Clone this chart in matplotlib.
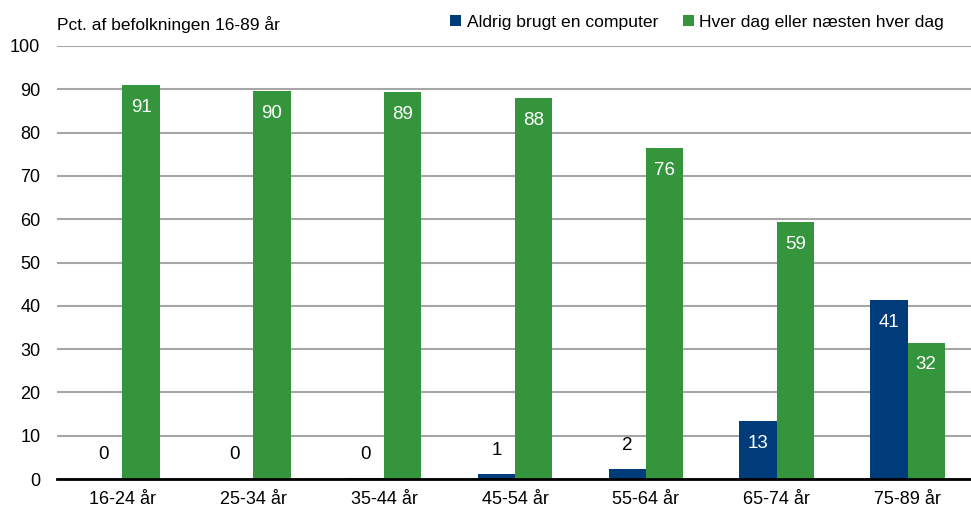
import matplotlib.pyplot as plt
import numpy as np

plt.rcParams['font.family'] = ['Liberation Sans', 'DejaVu Sans']

# Data
categories = ['16-24 år', '25-34 år', '35-44 år', '45-54 år', '55-64 år', '65-74 år', '75-89 år']
aldrig = [0.1, 0.1, 0.3, 1.2, 2.3, 13.3, 41.3]
aldrig_labels = ['0', '0', '0', '1', '2', '13', '41']
hver_dag = [91.0, 89.6, 89.3, 88.0, 76.4, 59.4, 31.5]
hver_dag_labels = ['91', '90', '89', '88', '76', '59', '32']

navy = '#003b7a'
green = '#35953c'

fig = plt.figure(figsize=(9.71, 5.18), dpi=100)
ax = fig.add_axes([57 / 971, 1 - 479 / 518, 916 / 971, 433 / 518])

x = np.arange(len(categories))
w = 0.285
b1 = ax.bar(x - w / 2, aldrig, w, color=navy, label='Aldrig brugt en computer', zorder=3)
b2 = ax.bar(x + w / 2, hver_dag, w, color=green, label='Hver dag eller næsten hver dag', zorder=3)

# value labels: white inside tall bars, black above small ones
for bars, labels in ((b1, aldrig_labels), (b2, hver_dag_labels)):
    for bar, lab in zip(bars, labels):
        h = bar.get_height()
        cx = bar.get_x() + bar.get_width() / 2
        if h > 8:
            ax.annotate(lab, (cx, h), xytext=(0, -16), textcoords='offset points',
                        ha='center', va='center', color='white', fontsize=13.5, zorder=4)
        else:
            ax.annotate(lab, (cx, h), xytext=(0, 17), textcoords='offset points',
                        ha='center', va='center', color='black', fontsize=13.5, zorder=4)

ax.set_xlim(-0.5, len(categories) - 0.5)
ax.set_ylim(0, 100)
ax.set_yticks(range(0, 101, 10))
ax.set_xticks(x)
ax.set_xticklabels(categories)
ax.yaxis.grid(True, color='#a6a6a6', linewidth=1.5, zorder=0)
ax.tick_params(axis='both', length=0, labelsize=13)
ax.tick_params(axis='x', pad=9)
ax.tick_params(axis='y', pad=12)
for s in ['top', 'right', 'left']:
    ax.spines[s].set_visible(False)
ax.spines['bottom'].set_color('black')
ax.spines['bottom'].set_linewidth(2)
ax.spines['bottom'].set_zorder(5)

fig.text(57 / 971, 1 - 25 / 518, 'Pct. af befolkningen 16-89 år', fontsize=12.5, va='center', ha='left')

fig.legend(*ax.get_legend_handles_labels(), loc='center right', bbox_to_anchor=(944 / 971, 1 - 22 / 518),
           ncol=2, frameon=False, fontsize=12.6, handlelength=0.65, handleheight=0.65,
           handletextpad=0.3, columnspacing=1.4, borderaxespad=0, borderpad=0)

fig.savefig('out.png', dpi=100)
